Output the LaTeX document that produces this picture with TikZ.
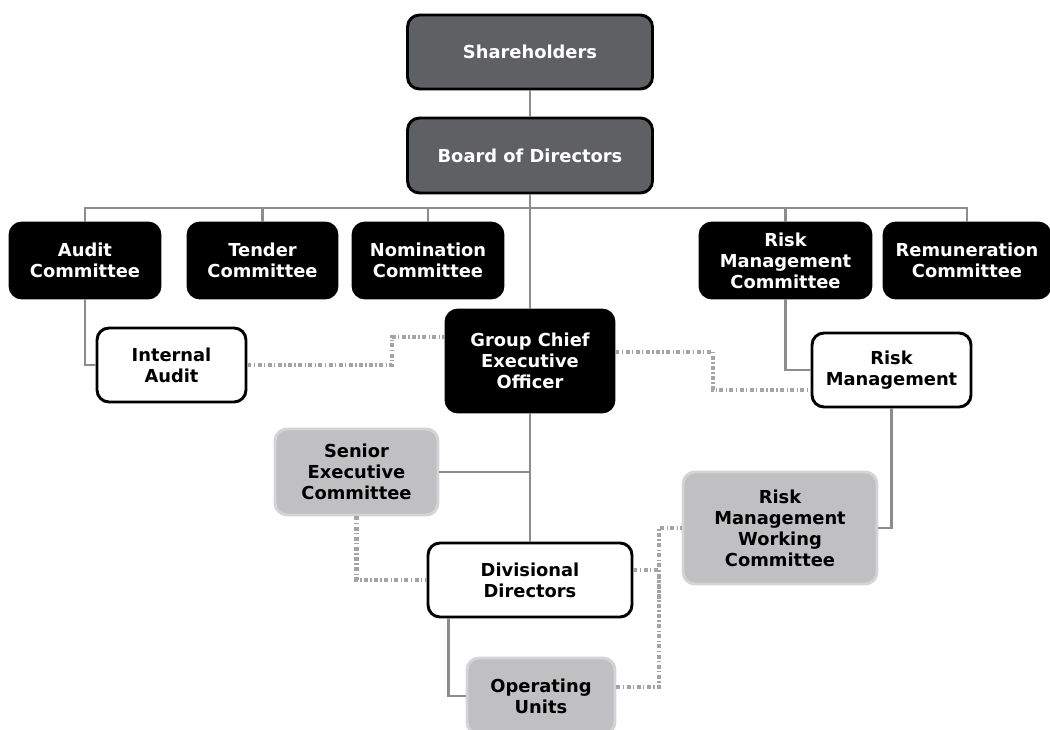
\documentclass[tikz,border=0pt]{standalone}
\usepackage{fontspec}
\setmainfont{DejaVu Sans}
\usepackage{tikz}
\definecolor{boardgray}{HTML}{5F6064}
\definecolor{greyfill}{HTML}{C0C0C2}
\definecolor{greyedge}{HTML}{D4D4D6}
\definecolor{tiegray}{HTML}{8C8C8E}
\definecolor{dashgray}{HTML}{A4A4A6}

\begin{document}
\begin{tikzpicture}[x=0.75pt,y=-0.75pt,
	box/.style={rounded corners=9pt, line width=2.2pt, align=center, inner sep=1pt,
		font=\bfseries\fontsize{13.4}{15.8}\selectfont},
	dims/.style 2 args={minimum width=#1*0.75pt, minimum height=#2*0.75pt},
	darkbox/.style={box, draw=black, fill=boardgray, text=white},
	blackbox/.style={box, draw=black, fill=black, text=white},
	whitebox/.style={box, draw=black, fill=white},
	greybox/.style={box, draw=greyedge, fill=greyfill},
	tie/.style={draw=tiegray, line width=1.9pt},
	dotlink/.style={draw=dashgray, line width=3.3pt, dash pattern=on 3pt off 1.8pt on 1pt off 1.8pt}]
		\useasboundingbox (0,0) rectangle (1050,730);
		\path (530,52) node(sh)[darkbox, dims={245}{74}]{Shareholders}
		(530,155.5) node(bod)[darkbox, dims={245}{75}]{Board of Directors}
		(85,260.5) node(ac)[blackbox, dims={150}{75}]{Audit\\Committee}
		(262.5,260.5) node(tc)[blackbox, dims={149}{75}]{Tender\\Committee}
		(428,260.5) node(nc)[blackbox, dims={150}{75}]{Nomination\\Committee}
		(785.5,260.5) node(rmc)[blackbox, dims={171}{75}]{Risk\\Management\\Committee}
		(967,260.5) node(rem)[blackbox, dims={166}{75}]{Remuneration\\Committee}
		(171.5,365) node(ia)[whitebox, dims={149}{74}]{Internal\\Audit}
		(530,361) node(gceo)[blackbox, dims={168}{102}]{Group Chief\\Executive\\Officer}
		(891.5,370) node(rm)[whitebox, dims={159}{74}]{Risk\\Management}
		(356.5,472) node(sec)[greybox, dims={163}{86}]{Senior\\Executive\\Committee}
		(780,528) node(rmwc)[greybox, dims={194}{112}]{Risk\\Management\\Working\\Committee}
		(530,580) node(dd)[whitebox, dims={204}{74}]{Divisional\\Directors}
		(541,696) node(ou)[greybox, dims={148}{76}]{Operating\\Units};
		\coordinate (bus) at (530,208);
		\coordinate (j1) at (392,337);
		\coordinate (j2) at (713,390);
		\coordinate (j3) at (659,600);
		\draw [tie] (sh)--(bod);
		\draw [tie] (bod)--(gceo);
		\draw [tie] (gceo)--(dd);
		\draw [tie] (ac.north) |- (bus);
		\draw [tie] (tc.north) |- (bus);
		\draw [tie] (nc.north) |- (bus);
		\draw [tie] (rmc.north) |- (bus);
		\draw [tie] (rem.north) |- (bus);
		\draw [tie] (ac.south) |- (ia.west);
		\draw [tie] (rmc.south) |- (rm.west);
		\draw [tie] (rm.south) |- (rmwc.east);
		\draw [tie] (sec.east) -- (sec.east -| gceo.south);
		\draw [tie] ([xshift=16.5pt]dd.south west) |- (ou.west);
		\draw [dotlink] (ia.east) -| (j1) -- (j1 -| gceo.west);
		\draw [dotlink] ([yshift=6.75pt]gceo.east) -| (j2) -- (j2 -| rm.west);
		\draw [dotlink] (sec.south) |- (dd.west);
		\draw [dotlink] ([yshift=6.75pt]ou.east) -| (j3) |- (rmwc.west);
		\draw [dotlink] ([yshift=7.5pt]dd.east) -| (j3);
	\end{tikzpicture}
\end{document}
